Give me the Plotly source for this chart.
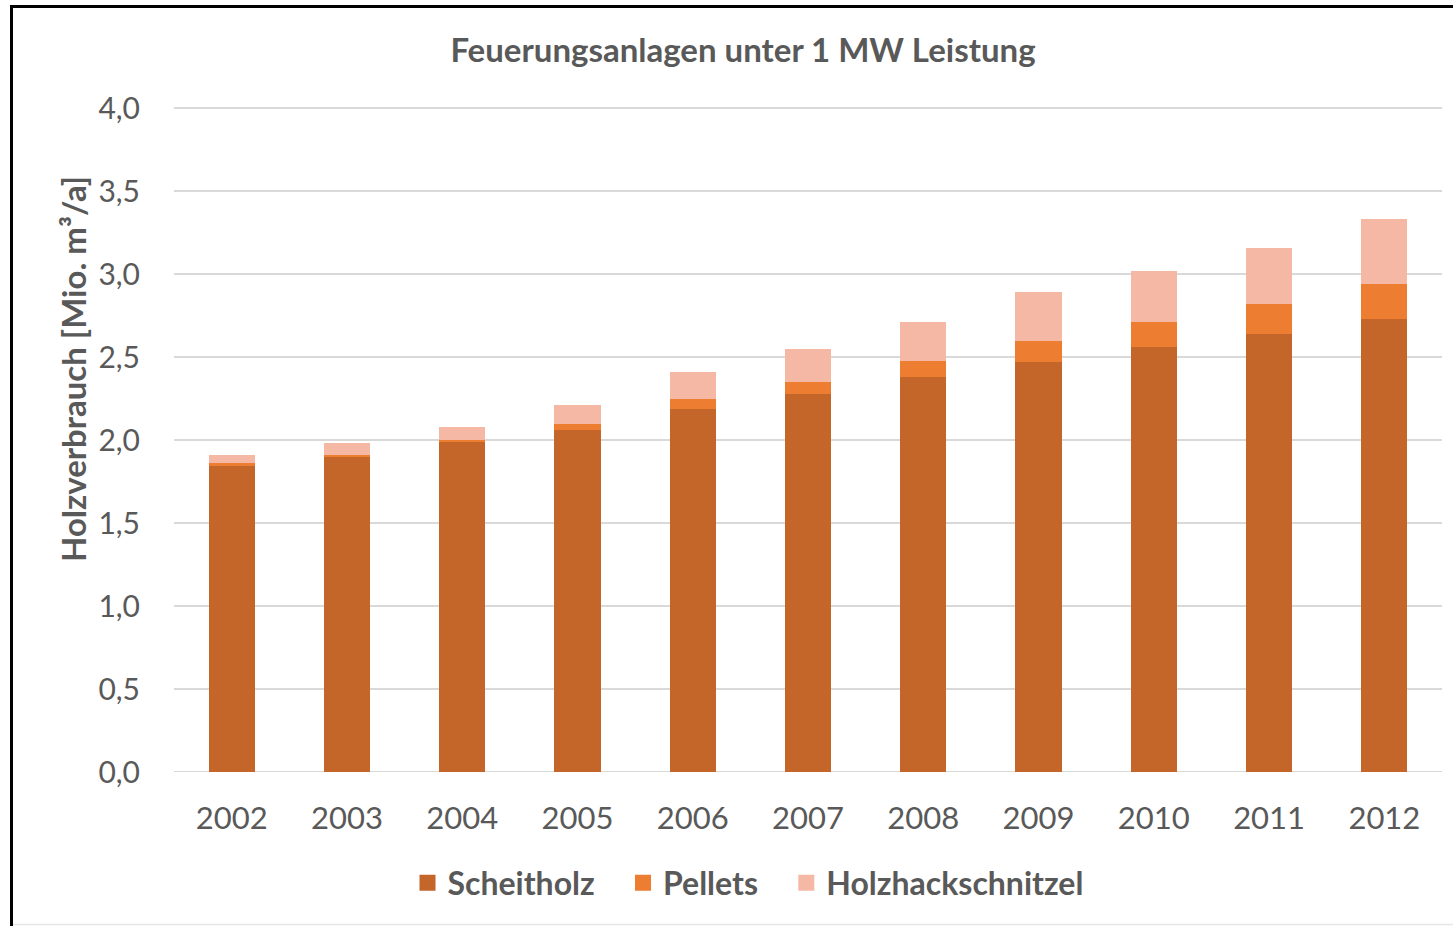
import plotly.graph_objects as go

years = ["2002", "2003", "2004", "2005", "2006", "2007", "2008", "2009", "2010", "2011", "2012"]
scheitholz = [1.85, 1.90, 1.99, 2.06, 2.19, 2.28, 2.38, 2.47, 2.56, 2.64, 2.73]
pellets = [0.01, 0.01, 0.01, 0.04, 0.06, 0.07, 0.10, 0.13, 0.15, 0.18, 0.21]
holzhack = [0.05, 0.07, 0.08, 0.11, 0.16, 0.20, 0.23, 0.29, 0.31, 0.34, 0.39]
y_ticks = [0, 0.5, 1.0, 1.5, 2.0, 2.5, 3.0, 3.5, 4.0]
y_ticklabels = ["0,0", "0,5", "1,0", "1,5", "2,0", "2,5", "3,0", "3,5", "4,0"]
series_names = ["Scheitholz", "Pellets", "Holzhackschnitzel"]
series_colors = ["#C4652A", "#ED7D31", "#F4B8A5"]

W, H = 1453, 926
L, R, T, B = 174, 11, 105, 154
FONT = "Lato"
GREY = "#595959"

fig = go.Figure()
for name, vals, col in zip(series_names, [scheitholz, pellets, holzhack], series_colors):
    fig.add_trace(go.Bar(x=years, y=vals, name=name, marker_color=col,
                         marker_line_width=0, showlegend=False))
# legend entries with larger square swatches
for i, (name, col) in enumerate(zip(series_names, series_colors)):
    pad = "\u00a0" * 3 if i < len(series_names) - 1 else ""
    fig.add_trace(go.Scatter(x=[None], y=[None], mode="markers", name=name + pad,
                             marker=dict(symbol="square", size=16, color=col)))

pw = W - L - R
ph = H - T - B

def px_x(p):
    return (p - L) / pw

def px_y(p):
    return (H - B - p) / ph

fig.update_layout(
    width=W, height=H,
    margin=dict(l=L, r=R, t=T, b=B, autoexpand=False),
    barmode="stack", bargap=0.6,
    plot_bgcolor="white", paper_bgcolor="white",
    font=dict(family=FONT, color=GREY),
    title=dict(text="<b>Feuerungsanlagen unter 1 MW Leistung</b>",
               x=743 / W, xanchor="center", y=1 - 50 / H, yanchor="middle",
               font=dict(size=33, family=FONT, color=GREY)),
    xaxis=dict(tickfont=dict(size=31, color=GREY), showgrid=False,
               ticks="", showline=False, ticklabelstandoff=25),
    yaxis=dict(range=[0, 4.02], tickvals=y_ticks, ticktext=y_ticklabels,
               tickfont=dict(size=30, color=GREY),
               gridcolor="#D9D9D9", gridwidth=1.5, zeroline=False,
               ticks="", ticklabelstandoff=33),
    legend=dict(orientation="h", x=px_x(748), xanchor="center",
                y=px_y(883), yanchor="middle",
                font=dict(size=32, color=GREY, weight="bold"),
                itemsizing="trace", traceorder="normal"),
    showlegend=True,
)

# y-axis title
fig.add_annotation(text="<b>Holzverbrauch [Mio. m³/a]</b>", textangle=-90,
                   xref="paper", yref="paper", x=px_x(73), y=px_y(369),
                   xanchor="center", yanchor="middle", showarrow=False,
                   font=dict(size=33, color=GREY, family=FONT))

# x-axis baseline
fig.add_shape(type="line", xref="paper", yref="y", x0=0, x1=1, y0=0, y1=0,
              line=dict(color="#D9D9D9", width=2), layer="below")
# chart frame (left and top black edges, faint bottom edge)
fig.add_shape(type="line", xref="paper", yref="paper",
              x0=px_x(11.5), x1=px_x(11.5), y0=px_y(5), y1=px_y(930),
              line=dict(color="black", width=3))
fig.add_shape(type="line", xref="paper", yref="paper",
              x0=px_x(10), x1=px_x(1460), y0=px_y(6.5), y1=px_y(6.5),
              line=dict(color="black", width=3))
fig.add_shape(type="line", xref="paper", yref="paper",
              x0=px_x(13), x1=px_x(1460), y0=px_y(924.5), y1=px_y(924.5),
              line=dict(color="#E6E6E6", width=1.5))

fig.write_html("out.html", config={"displayModeBar": False},
               post_script="document.body.style.margin='0px';document.body.style.overflow='hidden';")
